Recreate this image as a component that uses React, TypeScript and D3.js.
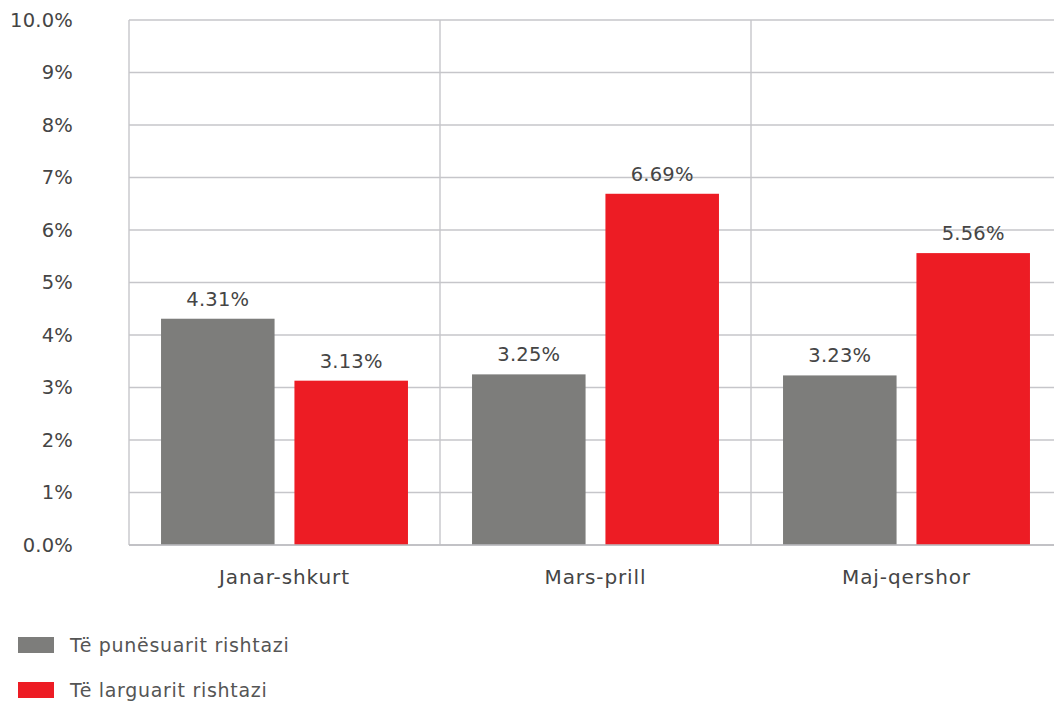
import React from "react";
import * as d3 from "d3";

const categories = ["Janar-shkurt", "Mars-prill", "Maj-qershor"];
const seriesNames = ["Të punësuarit rishtazi", "Të larguarit rishtazi"];
const employed = [4.31, 3.25, 3.23];
const left = [3.13, 6.69, 5.56];
const yTicks = [0, 1, 2, 3, 4, 5, 6, 7, 8, 9, 10];
const colors = ["#7d7d7b", "#ed1c24"];

const W = 1054;
const H = 703;
const FONT = "'DejaVu Sans', sans-serif";
const TEXT = "#454545";

export default function App() {
  const x = d3.scaleBand<string>().domain(categories).range([129, 1062]).padding(0);
  const y = d3.scaleLinear().domain([0, 10]).range([545, 20]);
  const bw = x.bandwidth();
  const sub = d3
    .scaleBand<number>()
    .domain([0, 1])
    .range([bw * 0.103, bw * 0.897])
    .paddingInner(0.149)
    .paddingOuter(0);
  const seriesVals = [employed, left];
  const fmtTick = (t: number) => (t === 0 || t === 10 ? t.toFixed(1) + "%" : t + "%");

  return (
    <svg width={W} height={H} style={{ position: "absolute", left: 0, top: 0, background: "#fff" }}>
      {yTicks.map((t) => (
        <line key={"g" + t} x1={129} x2={1062} y1={y(t)} y2={y(t)} stroke="#c6c6ca" strokeWidth={1.4} />
      ))}
      {categories.map((c) => (
        <line key={"v" + c} x1={x(c)!} x2={x(c)!} y1={y(10)} y2={y(0)} stroke="#c6c6ca" strokeWidth={1.4} />
      ))}
      {categories.map((c, i) =>
        seriesVals.map((vals, s) => (
          <rect
            key={c + s}
            x={x(c)! + sub(s)!}
            y={y(vals[i])}
            width={sub.bandwidth()}
            height={y(0) - y(vals[i])}
            fill={colors[s]}
          />
        ))
      )}
      {categories.map((c, i) =>
        seriesVals.map((vals, s) => (
          <text
            key={"l" + c + s}
            x={x(c)! + sub(s)! + sub.bandwidth() / 2}
            y={y(vals[i]) - 13}
            textAnchor="middle"
            fontFamily={FONT}
            fontSize={19.5}
            letterSpacing={0.2}
            fill={TEXT}
          >
            {vals[i].toFixed(2) + "%"}
          </text>
        ))
      )}
      <line x1={129} x2={1062} y1={y(0)} y2={y(0)} stroke="#bdbdc0" strokeWidth={1.6} />
      {yTicks.map((t) => (
        <text
          key={"t" + t}
          x={73}
          y={y(t)}
          dy="0.35em"
          textAnchor="end"
          fontFamily={FONT}
          fontSize={19.5}
          letterSpacing={0.2}
          fill={TEXT}
        >
          {fmtTick(t)}
        </text>
      ))}
      {categories.map((c) => (
        <text
          key={"c" + c}
          x={x(c)! + bw / 2}
          y={577}
          dy="0.35em"
          textAnchor="middle"
          fontFamily={FONT}
          fontSize={20}
          letterSpacing={0.9}
          fill={TEXT}
        >
          {c}
        </text>
      ))}
      {seriesNames.map((n, s) => (
        <g key={"lg" + s} transform={`translate(18, ${637 + s * 45})`}>
          <rect x={0} y={0} width={36} height={16} fill={colors[s]} />
          <text x={52} y={8} dy="0.35em" fontFamily={FONT} fontSize={19} letterSpacing={0.7} fill="#555">
            {n}
          </text>
        </g>
      ))}
    </svg>
  );
}
